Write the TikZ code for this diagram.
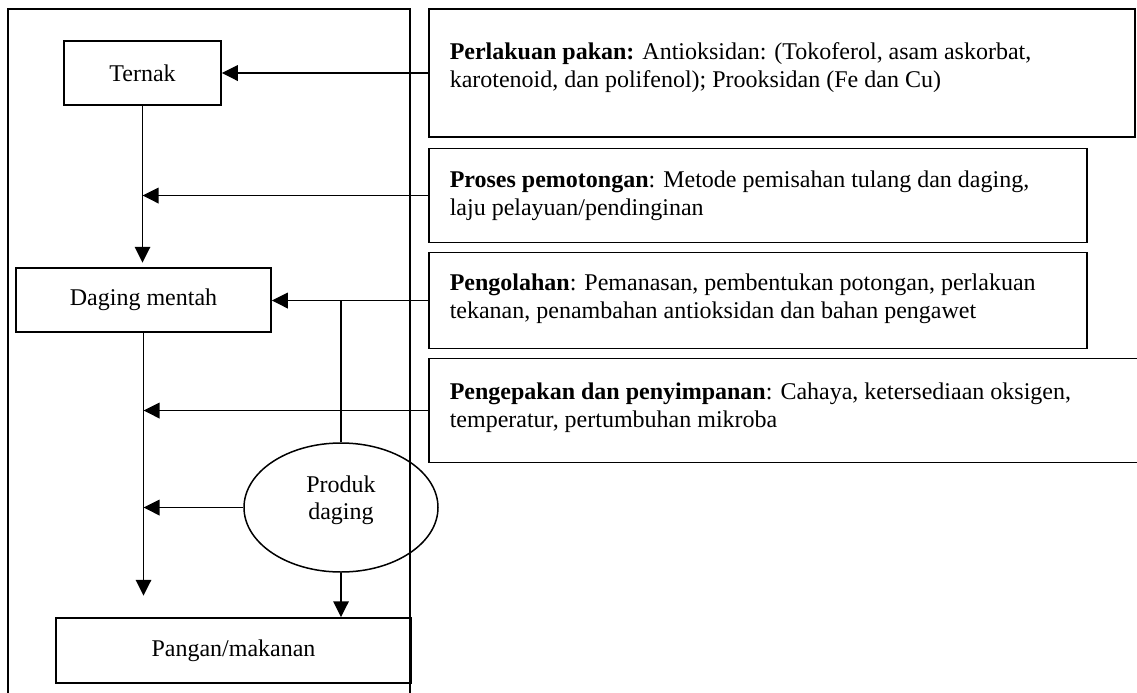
\documentclass[tikz,border=0pt]{standalone}
\usepackage{fontspec}
\setmainfont{Liberation Serif}
\usetikzlibrary{shapes.geometric,arrows.meta}
\begin{document}
\begin{tikzpicture}[x=0.5pt,y=-0.5pt, line width=0.75pt,
 box/.style={draw, inner sep=0pt, font=\fontsize{12}{13.5}\selectfont},
 info/.style={anchor=base west, inner sep=0pt, align=left, font=\fontsize{12}{13.6}\selectfont},
 arr/.style={-{Triangle[length=8pt,width=7.8pt]}}]
\useasboundingbox (0,0) rectangle (1137,692);
\clip (0,0) rectangle (1137,692);
\draw (8,700) -- (8,9) -- (410,9) -- (410,700);
\node[box, minimum width=78.5pt, minimum height=32pt] (ternak) at (142.5,73) {Ternak};
\node[box, minimum width=127.5pt, minimum height=32pt] (daging) at (143.5,300) {Daging mentah};
\node[box, minimum width=177.5pt, minimum height=32.5pt] (pangan) at (233.5,650.5) {Pangan/makanan};
\node[box, ellipse, minimum width=97pt, minimum height=64.5pt] (produk) at (341,507.5) {};
\node[box, draw=none, align=center] (produklabel) at (341,500) {Produk\\daging};
\node[box, minimum width=353pt, minimum height=64pt] (b1) at (782,73) {};
\node[box, minimum width=329pt, minimum height=47pt] (b2) at (758,195.5) {};
\node[box, minimum width=329pt, minimum height=48pt] (b3) at (758,300.5) {};
\node[box, minimum width=360.5pt, minimum height=52pt] (b4) at (789.5,410.5) {};
\node[info] (t1) at (449,87) {\textbf{Perlakuan pakan:} Antioksidan: (Tokoferol, asam askorbat,\\karotenoid, dan polifenol); Prooksidan (Fe dan Cu)};
\node[info] (t2) at (449,215) {\textbf{Proses pemotongan}: Metode pemisahan tulang dan daging,\\laju pelayuan/pendinginan};
\node[info] (t3) at (449,318) {\textbf{Pengolahan}: Pemanasan, pembentukan potongan, perlakuan\\tekanan, penambahan antioksidan dan bahan pengawet};
\node[info] (t4) at (449,427) {\textbf{Pengepakan dan penyimpanan}: Cahaya, ketersediaan oksigen,\\temperatur, pertumbuhan mikroba};
\draw[arr] (b1.west) -- (ternak.east);
\draw[arr] (ternak.south) -- ++(0,157);
\draw[arr] (b2.west) -- (b2.west -| ternak.south);
\draw[arr] (b3.west) -- (b3.west -| daging.east);
\draw (produk.north) -- (produk.north |- b3.west);
\draw[arr] (daging.south) -- ++(0,263);
\draw[arr] (b4.west) -- (b4.west -| daging.south);
\draw[arr] (produk.west) -- (produk.west -| daging.south);
\draw[arr] (produk.south) -- (pangan.north -| produk.south);
\end{tikzpicture}
\end{document}
